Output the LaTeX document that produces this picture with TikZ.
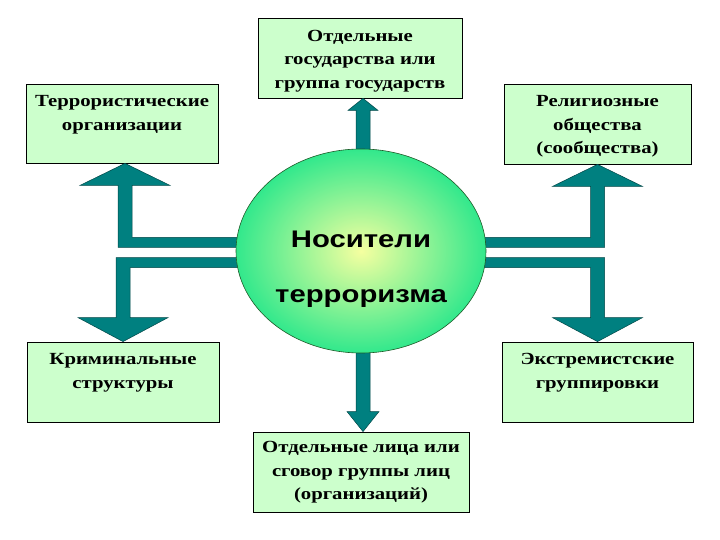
\documentclass[tikz,border=0pt]{standalone}
\usepackage{fontspec}
\usetikzlibrary{shapes.geometric}
\newfontfamily\boxfont{Liberation Serif}[FakeStretch=1.22]
\newfontfamily\hubfont{Liberation Sans}[FakeStretch=1.22]
\definecolor{boxgreen}{RGB}{204,255,204}
\definecolor{arrowteal}{RGB}{0,128,128}
\definecolor{tealedge}{RGB}{0,70,70}
\definecolor{hubin}{RGB}{245,255,160}
\definecolor{hubout}{RGB}{50,232,140}
\definecolor{hubedge}{RGB}{30,90,40}
\begin{document}
\begin{tikzpicture}[x=1bp,y=-1bp,
 box/.style={draw=black, line width=0.8bp, fill=boxgreen, inner sep=0pt},
 boxtext/.style={anchor=north, align=center, inner sep=0pt, font=\boxfont\bfseries\fontsize{17bp}{23.5bp}\selectfont},
 barrow/.style={fill=arrowteal, draw=tealedge, line width=0.5bp, line join=miter},
 hub/.style={ellipse, draw=hubedge, line width=0.6bp, inner color=hubin, outer color=hubout, inner sep=0pt},
 hubtext/.style={align=center, inner sep=0pt, font=\hubfont\bfseries\fontsize{24bp}{55bp}\selectfont}]
\fill[white] (0,0) rectangle (720,540);
\useasboundingbox (0,0) rectangle (720,540);

% boxes
\node[box, minimum width=204bp, minimum height=80bp] (T) at (360,58) {};
\node[box, minimum width=192bp, minimum height=79bp] (TL) at (122,123.5) {};
\node[box, minimum width=187bp, minimum height=80bp] (TR) at (597.5,124) {};
\node[box, minimum width=192bp, minimum height=80bp] (BL) at (123,382) {};
\node[box, minimum width=191bp, minimum height=80bp] (BR) at (597.5,382) {};
\node[box, minimum width=216bp, minimum height=80bp] (B) at (361,472) {};

\node[boxtext] (Tt) at (360,30) {Отдельные\\государства или\\группа государств};
\node[boxtext] (TLt) at (122,95.5) {Террористические\\организации};
\node[boxtext] (TRt) at (597.5,95.5) {Религиозные\\общества\\(сообщества)};
\node[boxtext] (BLt) at (123,353.5) {Криминальные\\структуры};
\node[boxtext] (BRt) at (597.5,353.5) {Экстремистские\\группировки};
\node[boxtext] (Bt) at (361,441.5) {Отдельные лица или\\сговор группы лиц\\(организаций)};

% block arrows
\draw[barrow] ([xshift=3bp]T.south) -- ++(15,12) -- ++(-8,0) -- ++(0,70) -- ++(-14,0) -- ++(0,-70) -- ++(-8,0) -- cycle;
\draw[barrow] ([xshift=2bp]B.north) -- ++(16,-20) -- ++(-9,0) -- ++(0,-80) -- ++(-14,0) -- ++(0,80) -- ++(-9,0) -- cycle;
\draw[barrow] ([xshift=3bp]TL.south) -- ++(45,22) -- ++(-38,0) -- ++(0,52) -- ++(118,0) -- ++(0,10) -- ++(-132,0) -- ++(0,-62) -- ++(-38,0) -- cycle;
\draw[barrow] (BL.north) -- ++(45,-24) -- ++(-38,0) -- ++(0,-50) -- ++(120,0) -- ++(0,-10) -- ++(-134,0) -- ++(0,60) -- ++(-38,0) -- cycle;
\draw[barrow] (TR.south) -- ++(45,22) -- ++(-38,0) -- ++(0,61) -- ++(-134,0) -- ++(0,-10) -- ++(120,0) -- ++(0,-51) -- ++(-38,0) -- cycle;
\draw[barrow] (BR.north) -- ++(-45,-24) -- ++(38,0) -- ++(0,-50) -- ++(-120,0) -- ++(0,-10) -- ++(134,0) -- ++(0,60) -- ++(38,0) -- cycle;

% centre
\node[hub, minimum width=250bp, minimum height=204bp] (C) at (361,251) {};
\node[hubtext] (Ct) at (361,269) {Носители\\терроризма};
\end{tikzpicture}
\end{document}
